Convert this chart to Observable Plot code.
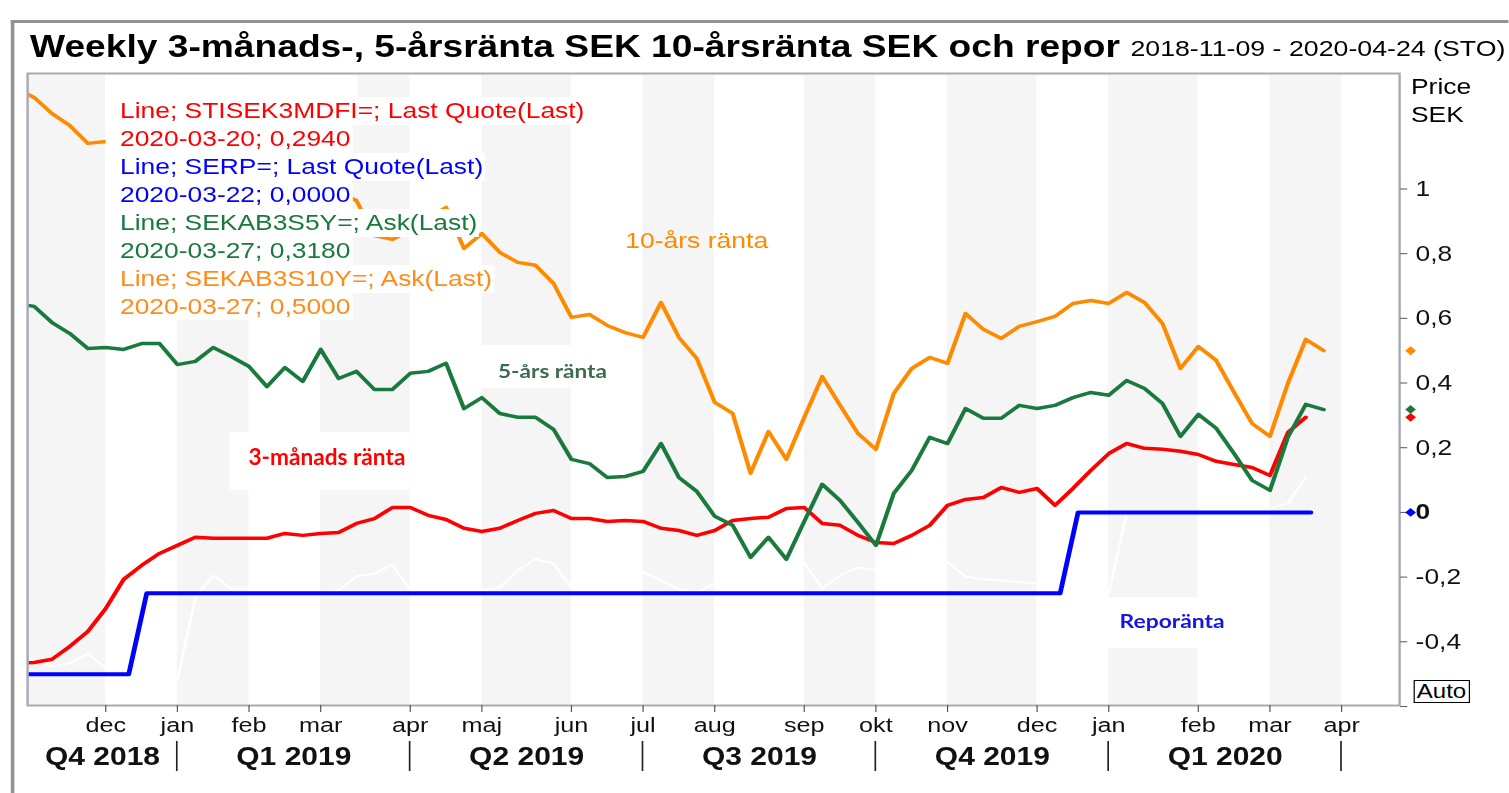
<!DOCTYPE html>
<html><head><meta charset="utf-8">
<script src="https://cdn.jsdelivr.net/npm/d3@7"></script>
<script src="https://cdn.jsdelivr.net/npm/@observablehq/plot@0.6"></script>
<style>
html,body{margin:0;padding:0;background:#fff;overflow:hidden;width:1509px;height:793px}
#stage{position:absolute;left:0;top:0;width:1257.5px;height:793px;transform:scaleX(1.2);transform-origin:0 0;font-family:"Liberation Sans",Arial,sans-serif}
#chart{position:absolute;left:0;top:0;width:1257.5px;height:793px}
#chart svg{max-width:none!important;overflow:visible}
.abs{position:absolute;white-space:nowrap}
</style></head><body><div id="stage"><div id="chart"></div></div>
<script>
// ---------- data ----------
const seriesStart = "2018-11-02";   // weekly Friday quotes (first one just left of the frame)
const seriesEnd = "2020-03-28";
const repoStart = "2018-11-04";     // SERP= weekly (Sundays)
const repoEnd = "2020-03-23";

const rate3m = [-0.467,-0.464,-0.454,-0.414,-0.368,-0.297,-0.207,-0.164,-0.127,-0.102,-0.077,-0.080,-0.080,-0.080,-0.080,-0.065,-0.071,-0.065,-0.062,-0.034,-0.019,0.015,0.015,-0.009,-0.022,-0.049,-0.059,-0.049,-0.025,-0.003,0.006,-0.019,-0.019,-0.028,-0.025,-0.028,-0.049,-0.056,-0.071,-0.056,-0.025,-0.019,-0.015,0.012,0.015,-0.034,-0.040,-0.071,-0.093,-0.096,-0.071,-0.040,0.022,0.040,0.046,0.077,0.062,0.074,0.022,0.074,0.130,0.182,0.213,0.198,0.195,0.189,0.179,0.158,0.148,0.139,0.114,0.247,0.294];
const rate5y = [0.646,0.637,0.587,0.553,0.507,0.510,0.504,0.522,0.522,0.457,0.467,0.510,0.482,0.451,0.389,0.448,0.405,0.504,0.414,0.436,0.380,0.380,0.430,0.436,0.461,0.321,0.355,0.306,0.294,0.294,0.257,0.164,0.151,0.108,0.111,0.127,0.213,0.108,0.065,-0.012,-0.040,-0.139,-0.077,-0.145,-0.028,0.087,0.037,-0.031,-0.102,0.059,0.130,0.232,0.213,0.321,0.291,0.291,0.331,0.321,0.331,0.355,0.371,0.362,0.408,0.383,0.337,0.235,0.303,0.260,0.182,0.099,0.068,0.232,0.334,0.318];
const rate10y = [1.311,1.283,1.233,1.196,1.141,1.147,1.141,1.131,1.119,1.097,1.079,1.088,1.063,1.051,1.032,1.017,1.036,1.011,0.989,0.964,0.856,0.844,0.872,0.909,0.943,0.816,0.862,0.804,0.773,0.764,0.708,0.603,0.612,0.578,0.556,0.541,0.649,0.541,0.476,0.340,0.306,0.121,0.250,0.164,0.294,0.420,0.331,0.244,0.195,0.368,0.445,0.479,0.461,0.615,0.566,0.538,0.575,0.590,0.606,0.646,0.655,0.646,0.680,0.649,0.584,0.445,0.513,0.470,0.371,0.275,0.235,0.399,0.535,0.500];
const repoRate = [-0.5,-0.5,-0.5,-0.5,-0.5,-0.5,-0.5,
 -0.25,-0.25,-0.25,-0.25,-0.25,-0.25,-0.25,-0.25,-0.25,-0.25,-0.25,-0.25,-0.25,-0.25,-0.25,-0.25,-0.25,-0.25,-0.25,-0.25,
 -0.25,-0.25,-0.25,-0.25,-0.25,-0.25,-0.25,-0.25,-0.25,-0.25,-0.25,-0.25,-0.25,-0.25,-0.25,-0.25,-0.25,-0.25,-0.25,-0.25,
 -0.25,-0.25,-0.25,-0.25,-0.25,-0.25,-0.25,-0.25,-0.25,-0.25,-0.25,-0.25,
 0,0,0,0,0,0,0,0,0,0,0,0,0,0];
const hiddenSeries = [-0.442,-0.457,-0.476,-0.467,-0.436,-0.482,-0.495,-0.507,-0.516,-0.519,-0.263,-0.195,-0.235,-0.235,-0.241,-0.247,-0.250,-0.257,-0.241,-0.198,-0.189,-0.161,-0.241,-0.247,-0.253,-0.247,-0.241,-0.232,-0.179,-0.145,-0.158,-0.232,-0.241,-0.247,-0.235,-0.185,-0.210,-0.238,-0.247,-0.219,-0.241,-0.257,-0.241,-0.226,-0.155,-0.235,-0.195,-0.170,-0.179,-0.185,-0.195,-0.179,-0.155,-0.198,-0.207,-0.210,-0.216,-0.219,-0.226,-0.235,-0.241,-0.250,-0.003,0,0,0,0,0,0,0.006,0.012,0.028,0.108];

const yTicks = [1, 0.8, 0.6, 0.4, 0.2, 0, -0.2, -0.4, -0.6];
const monthTicks = ["2018-12-07","2019-01-04","2019-02-01","2019-03-01","2019-04-05","2019-05-03","2019-06-07","2019-07-05","2019-08-02","2019-09-06","2019-10-04","2019-11-01","2019-12-06","2020-01-03","2020-02-07","2020-03-06","2020-04-03"];
const monthLabels = ["dec","jan","feb","mar","apr","maj","jun","jul","aug","sep","okt","nov","dec","jan","feb","mar","apr"];
const quarterBounds = ["2018-11-06T11:00Z","2019-01-04","2019-04-05","2019-07-05","2019-10-04","2020-01-03","2020-04-03"];
const quarterLabels = ["Q4 2018","Q1 2019","Q2 2019","Q3 2019","Q4 2019","Q1 2020"];
const greyMonths = [["2018-11-06T11:00Z","2018-12-07"],["2019-01-04","2019-02-01"],["2019-03-01","2019-04-05"],["2019-05-03","2019-06-07"],["2019-07-05","2019-08-02"],["2019-09-06","2019-10-04"],["2019-11-01","2019-12-06"],["2020-01-03","2020-02-07"],["2020-03-06","2020-04-03"]];
const xDomain = ["2018-11-06T11:00Z","2020-04-25T16:00Z"];

const C = {red:"#ff0000", blue:"#0000ff", green:"#1a7a3e", orange:"#ff8a00"};

// ---------- build ----------
const S = 1.2;
const stage = document.getElementById("stage");
const fridays = d3.utcFriday.range(new Date(seriesStart), new Date(seriesEnd));
const sundays = d3.utcSunday.range(new Date(repoStart), new Date(repoEnd));
const rows = (dates, vals) => vals.map((v, i) => ({date: dates[i], value: v}));
const s3m = rows(fridays, rate3m), s5y = rows(fridays, rate5y), s10y = rows(fridays, rate10y);
const sRepo = rows(sundays, repoRate), sHidden = rows(fridays, hiddenSeries);
const last = s => s[s.length - 1];
const lastQuotes = [
  {value: last(s10y).value, color: C.orange},
  {value: last(s5y).value, color: C.green},
  {value: last(s3m).value, color: C.red},
  {value: last(sRepo).value, color: C.blue}
];
const quarters = quarterLabels.map((q, i) => {
  const a = new Date(quarterBounds[i]), b = new Date(quarterBounds[i + 1]);
  return {label: q, mid: new Date((+a + +b) / 2)};
});
const comma = v => String(v).replace(".", ",");

const lineOpts = (stroke, w) => ({x: "date", y: "value", stroke, strokeWidth: w, clip: true, strokeLinejoin: "round"});

const chart = Plot.plot({
  width: 1509 / S, height: 793,
  marginTop: 73, marginBottom: 88, marginLeft: 27 / S, marginRight: 110 / S,
  x: {type: "utc", domain: xDomain.map(d => new Date(d))},
  y: {domain: [-0.597, 1.357]},
  style: {fontFamily: "'Liberation Sans', Arial, sans-serif", fontSize: "22px", color: "#111", background: "transparent", overflow: "visible"},
  marks: [
    Plot.rect(greyMonths, {x1: d => new Date(d[0]), x2: d => new Date(d[1]), fill: "#f5f5f5", clip: true}),
    Plot.line(sHidden, lineOpts("#ffffff", 2)),
    Plot.line(sRepo, lineOpts(C.blue, 4)),
    Plot.line(s3m, lineOpts(C.red, 3.5)),
    Plot.line(s5y, lineOpts(C.green, 3.5)),
    Plot.line(s10y, lineOpts(C.orange, 3.5)),
    Plot.frame({stroke: "#a9a9b6", strokeWidth: 2}),
    Plot.axisY(yTicks, {anchor: "right", tickSize: 7 / S, tickPadding: 9 / S, fontSize: 22, label: null, stroke: "#555",
      tickFormat: d => d === -0.6 ? "" : comma(d)}),
    Plot.axisX(monthTicks.map(d => new Date(d)), {anchor: "bottom", tickSize: 7, tickPadding: 5, fontSize: 21, label: null, stroke: "#555",
      tickFormat: (d, i) => monthLabels[i]}),
    Plot.text(quarters, {x: "mid", text: "label", frameAnchor: "bottom", lineAnchor: "middle", dy: 51, fontSize: 25, fontWeight: "bold", fill: "#111"}),
    Plot.dot(lastQuotes, {y: "value", fill: "color", symbol: "diamond2", r: 4, frameAnchor: "right", dx: 11 / S})
  ]
});
document.getElementById("chart").appendChild(chart);

// bold zero tick label
d3.select(chart).selectAll("text").filter(function () { return this.textContent === "0"; }).attr("font-weight", "bold");
// quarter dividers placed with the chart's x scale
const xs = chart.scale("x");
d3.select(chart).append("g").attr("stroke", "#222").attr("stroke-width", 1.4)
  .selectAll("line").data(quarterBounds.slice(1)).join("line")
  .attr("x1", d => xs.apply(new Date(d))).attr("x2", d => xs.apply(new Date(d)))
  .attr("y1", 741).attr("y2", 771);

// ---------- overlays (page coordinates, x divided by S) ----------
function rect(x1, y1, x2, y2, style) {
  const d = document.createElement("div");
  d.className = "abs";
  Object.assign(d.style, {left: x1 / S + "px", top: y1 + "px", width: (x2 - x1) / S + "px", height: (y2 - y1) + "px"}, style || {});
  stage.appendChild(d);
  return d;
}
const FONTS = {lib: {fam: "'Liberation Sans', Arial, sans-serif", c: 0.488, b: 0.8465}, lato: {fam: "Lato, 'Open Sans', sans-serif", c: 0.528, b: 0.887}};
function label(text, o) {
  const f = FONTS[o.font || "lib"];
  const d = document.createElement("div");
  d.className = "abs";
  d.textContent = text;
  const top = o.baseline != null ? o.baseline - f.b * o.size : o.cy - f.c * o.size;
  Object.assign(d.style, {left: o.x / S + "px", top: top + "px", fontSize: o.size + "px", lineHeight: o.size + "px",
    fontWeight: o.weight || 400, color: o.color || "#000", fontFamily: f.fam, transformOrigin: "0 0"});
  stage.appendChild(d);
  if (o.w) {
    const k = o.w / d.getBoundingClientRect().width;
    d.style.transform = `scaleX(${k})`;
  }
  return d;
}

// outer window border
rect(11, 20, 1509, 23, {background: "#929292"});
rect(11, 20, 14, 793, {background: "#929292"});

// title
label("Weekly 3-månads-, 5-årsränta SEK 10-årsränta SEK och repor", {x: 30, baseline: 57, size: 31, weight: 700, w: 1090});
label("2018-11-09 - 2020-04-24 (STO)", {x: 1130, baseline: 57, size: 22, w: 375});
label("Price", {x: 1411, cy: 87, size: 22});
label("SEK", {x: 1411, cy: 115, size: 22});
const auto = rect(1413, 680, 1470, 703, {border: "1px solid #000", boxSizing: "border-box", background: "#fff",
  fontSize: "20px", lineHeight: "21px", textAlign: "center"});
auto.textContent = "Auto";

// legend (opaque white boxes, as in the reference)
const fmtDate = d3.utcFormat("%Y-%m-%d");
const quote = (s) => `${fmtDate(last(s).date)}; ${last(s).value.toFixed(4).replace(".", ",")}`;
const legendLines = [
  ["Line; STISEK3MDFI=; Last Quote(Last)", C.red], [quote(s3m), C.red],
  ["Line; SERP=; Last Quote(Last)", C.blue], [quote(sRepo), C.blue],
  ["Line; SEKAB3S5Y=; Ask(Last)", C.green], [quote(s5y), C.green],
  ["Line; SEKAB3S10Y=; Ask(Last)", "#ff8c1a"], [quote(s10y), "#ff8c1a"]
];
const leg = document.createElement("div");
leg.className = "abs";
Object.assign(leg.style, {left: 105 / S + "px", top: "75px", fontSize: "22px", lineHeight: "27.9px"});
const spacer = document.createElement("div");
Object.assign(spacer.style, {width: (357 - 105) / S + "px", height: "22.2px", background: "#fff"});
leg.appendChild(spacer);
legendLines.forEach(([t, c]) => {
  const l = document.createElement("div");
  l.textContent = t;
  Object.assign(l.style, {width: "max-content", background: "#fff", color: c, paddingLeft: 15 / S + "px", paddingRight: 2 / S + "px"});
  leg.appendChild(l);
});
stage.appendChild(leg);

// in-chart annotations
rect(478, 345, 620, 388, {background: "#fff"});
rect(229, 432, 409, 490, {background: "#fff"});
rect(1100, 597, 1255, 648, {background: "#fff"});
label("10-års ränta", {x: 625, cy: 241, size: 22, color: C.orange, w: 143});
label("5-års ränta", {x: 498, cy: 371, size: 19, weight: 700, color: "#3b6b50", font: "lato", w: 109});
label("3-månads ränta", {x: 248, cy: 458, size: 22, weight: 700, color: "#ff0000", font: "lato", w: 157});
label("Reporänta", {x: 1120, cy: 621, size: 19, weight: 700, color: "#1414e6", font: "lato", w: 105});
</script>
</body></html>
